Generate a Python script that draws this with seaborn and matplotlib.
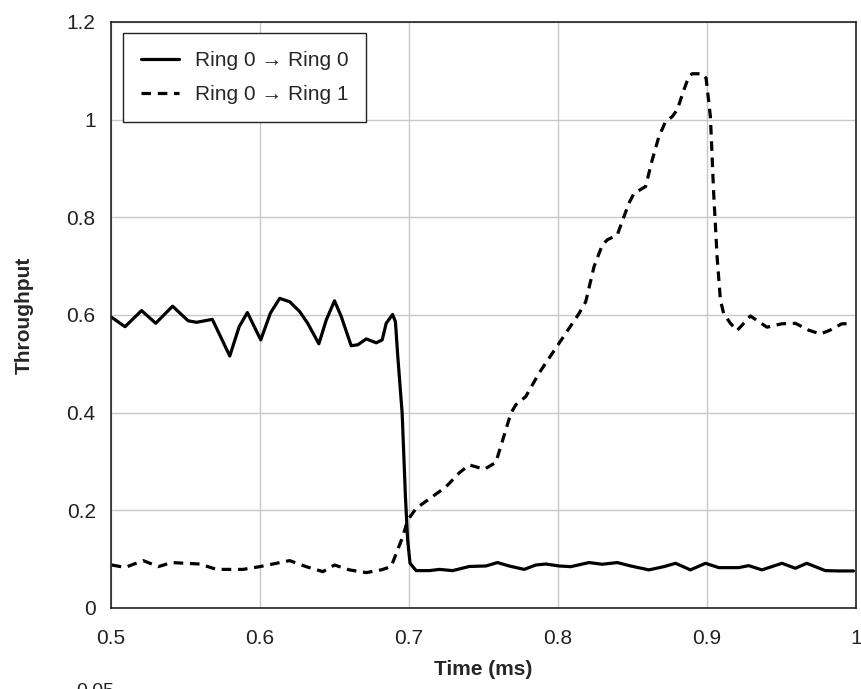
import matplotlib
matplotlib.use("Agg")
import matplotlib.pyplot as plt
import seaborn as sns
import pandas as pd

# Ring 0 -> Ring 0 throughput over time
t_local = [0.5005, 0.5094, 0.5205, 0.530, 0.5413, 0.5518, 0.5574, 0.568, 0.5797, 0.586,
           0.5915, 0.6005, 0.607, 0.6132, 0.620, 0.6266, 0.632, 0.6395, 0.6445, 0.650,
           0.6545, 0.6612, 0.6657, 0.6713, 0.678, 0.682, 0.6847, 0.689, 0.6909, 0.6924,
           0.6954, 0.6976, 0.6991, 0.7007, 0.7048, 0.7137, 0.7204, 0.7293, 0.7405, 0.7516,
           0.7594, 0.7672, 0.7773, 0.7851, 0.7918, 0.8007, 0.8086, 0.8208, 0.8297, 0.8398,
           0.8488, 0.861, 0.871, 0.8789, 0.8889, 0.899, 0.9079, 0.9213, 0.928, 0.9369,
           0.9503, 0.9593, 0.967, 0.9794, 0.9883, 0.9983]
y_local = [0.595, 0.576, 0.609, 0.583, 0.618, 0.588, 0.585, 0.591, 0.516, 0.576,
           0.605, 0.549, 0.604, 0.634, 0.627, 0.607, 0.583, 0.541, 0.590, 0.629,
           0.597, 0.537, 0.539, 0.551, 0.543, 0.549, 0.583, 0.601, 0.586, 0.518,
           0.399, 0.228, 0.139, 0.0915, 0.0765, 0.0765, 0.079, 0.0765, 0.085, 0.086,
           0.093, 0.086, 0.079, 0.088, 0.090, 0.086, 0.0846, 0.093, 0.0895, 0.093,
           0.086, 0.078, 0.0846, 0.0915, 0.078, 0.0915, 0.0826, 0.0826, 0.0867, 0.078,
           0.0915, 0.0813, 0.0915, 0.0765, 0.0758, 0.0758]

# Ring 0 -> Ring 1 throughput over time
t_remote = [0.5005, 0.5094, 0.5216, 0.5317, 0.5406, 0.5596, 0.5708, 0.5886, 0.5998, 0.6199,
            0.631, 0.6422, 0.650, 0.660, 0.6713, 0.6813, 0.688, 0.6958, 0.6991, 0.7048,
            0.7248, 0.7338, 0.7405, 0.7505, 0.7583, 0.7684, 0.7717, 0.7784, 0.7873, 0.7963,
            0.8007, 0.8141, 0.8186, 0.8242, 0.8297, 0.8331, 0.8398, 0.8476, 0.851, 0.8588,
            0.8632, 0.8677, 0.8722, 0.8766, 0.880, 0.8845, 0.8878, 0.890, 0.8967, 0.8994,
            0.9023, 0.9045, 0.9068, 0.909, 0.9112, 0.9157, 0.9202, 0.9291, 0.9403, 0.9503,
            0.9593, 0.9682, 0.976, 0.9827, 0.9905, 0.9972]
y_remote = [0.088, 0.083, 0.097, 0.0846, 0.093, 0.090, 0.079, 0.079, 0.0846, 0.097,
            0.0846, 0.0744, 0.088, 0.078, 0.0724, 0.078, 0.0846, 0.146, 0.180, 0.204,
            0.248, 0.277, 0.293, 0.284, 0.298, 0.399, 0.416, 0.433, 0.481, 0.522,
            0.542, 0.603, 0.627, 0.699, 0.743, 0.754, 0.764, 0.829, 0.849, 0.863,
            0.917, 0.965, 0.996, 1.006, 1.020, 1.061, 1.088, 1.094, 1.094, 1.085,
            1.006, 0.849, 0.719, 0.631, 0.603, 0.583, 0.568, 0.598, 0.575, 0.582,
            0.583, 0.569, 0.561, 0.569, 0.582, 0.582]

series_names = ["Ring 0 \u2192 Ring 0", "Ring 0 \u2192 Ring 1"]
x_ticks = [0.5, 0.6, 0.7, 0.8, 0.9, 1.0]
x_tick_labels = ["0.5", "0.6", "0.7", "0.8", "0.9", "1"]
y_ticks = [0, 0.2, 0.4, 0.6, 0.8, 1.0, 1.2]
y_tick_labels = ["0", "0.2", "0.4", "0.6", "0.8", "1", "1.2"]

df = pd.concat([
    pd.DataFrame({"time": t_local, "throughput": y_local, "link": series_names[0]}),
    pd.DataFrame({"time": t_remote, "throughput": y_remote, "link": series_names[1]}),
], ignore_index=True)

sns.set_theme(style="white")
plt.rcParams["font.family"] = ["Liberation Sans", "DejaVu Sans"]

fig = plt.figure(figsize=(8.62, 6.89), dpi=100)
ax = fig.add_axes([0.1288, 0.1176, 0.8642, 0.8505])

sns.lineplot(
    data=df, x="time", y="throughput", hue="link", style="link",
    palette={series_names[0]: "black", series_names[1]: "black"},
    dashes={series_names[0]: "", series_names[1]: (3.0, 2.1)},
    sort=False, estimator=None, linewidth=2.3, ax=ax,
)

ax.set_xlim(0.5, 1.0)
ax.set_ylim(0, 1.2)
ax.set_xticks(x_ticks)
ax.set_xticklabels(x_tick_labels)
ax.set_yticks(y_ticks)
ax.set_yticklabels(y_tick_labels)
ax.grid(True, color="#c8c8c8", linewidth=1.0)
ax.set_axisbelow(True)
for s in ax.spines.values():
    s.set_visible(True)
    s.set_color("#222222")
    s.set_linewidth(1.2)
ax.tick_params(axis="both", direction="in", length=4, width=1, color="#222222",
               labelsize=15, labelcolor="#222222")
ax.tick_params(axis="y", pad=11)
ax.tick_params(axis="x", pad=15)

ax.set_xlabel("Time (ms)", fontsize=15, fontweight="bold", labelpad=9)
ax.set_ylabel("Throughput", fontsize=15, fontweight="bold", labelpad=24)

leg = ax.legend(loc="upper left", bbox_to_anchor=(0.016, 0.981), borderaxespad=0,
                fontsize=15, frameon=True, fancybox=False, framealpha=1,
                edgecolor="#222222", handlelength=1.85, handletextpad=0.75,
                borderpad=0.85, labelspacing=0.75, title=None)
leg.get_frame().set_linewidth(1.0)
for h in leg.get_lines():
    h.set_linewidth(2.3)

fig.text(0.089, -0.004, "0.05", fontsize=14, color="#222222", va="center", ha="left")

fig.savefig("out.png", dpi=100)
